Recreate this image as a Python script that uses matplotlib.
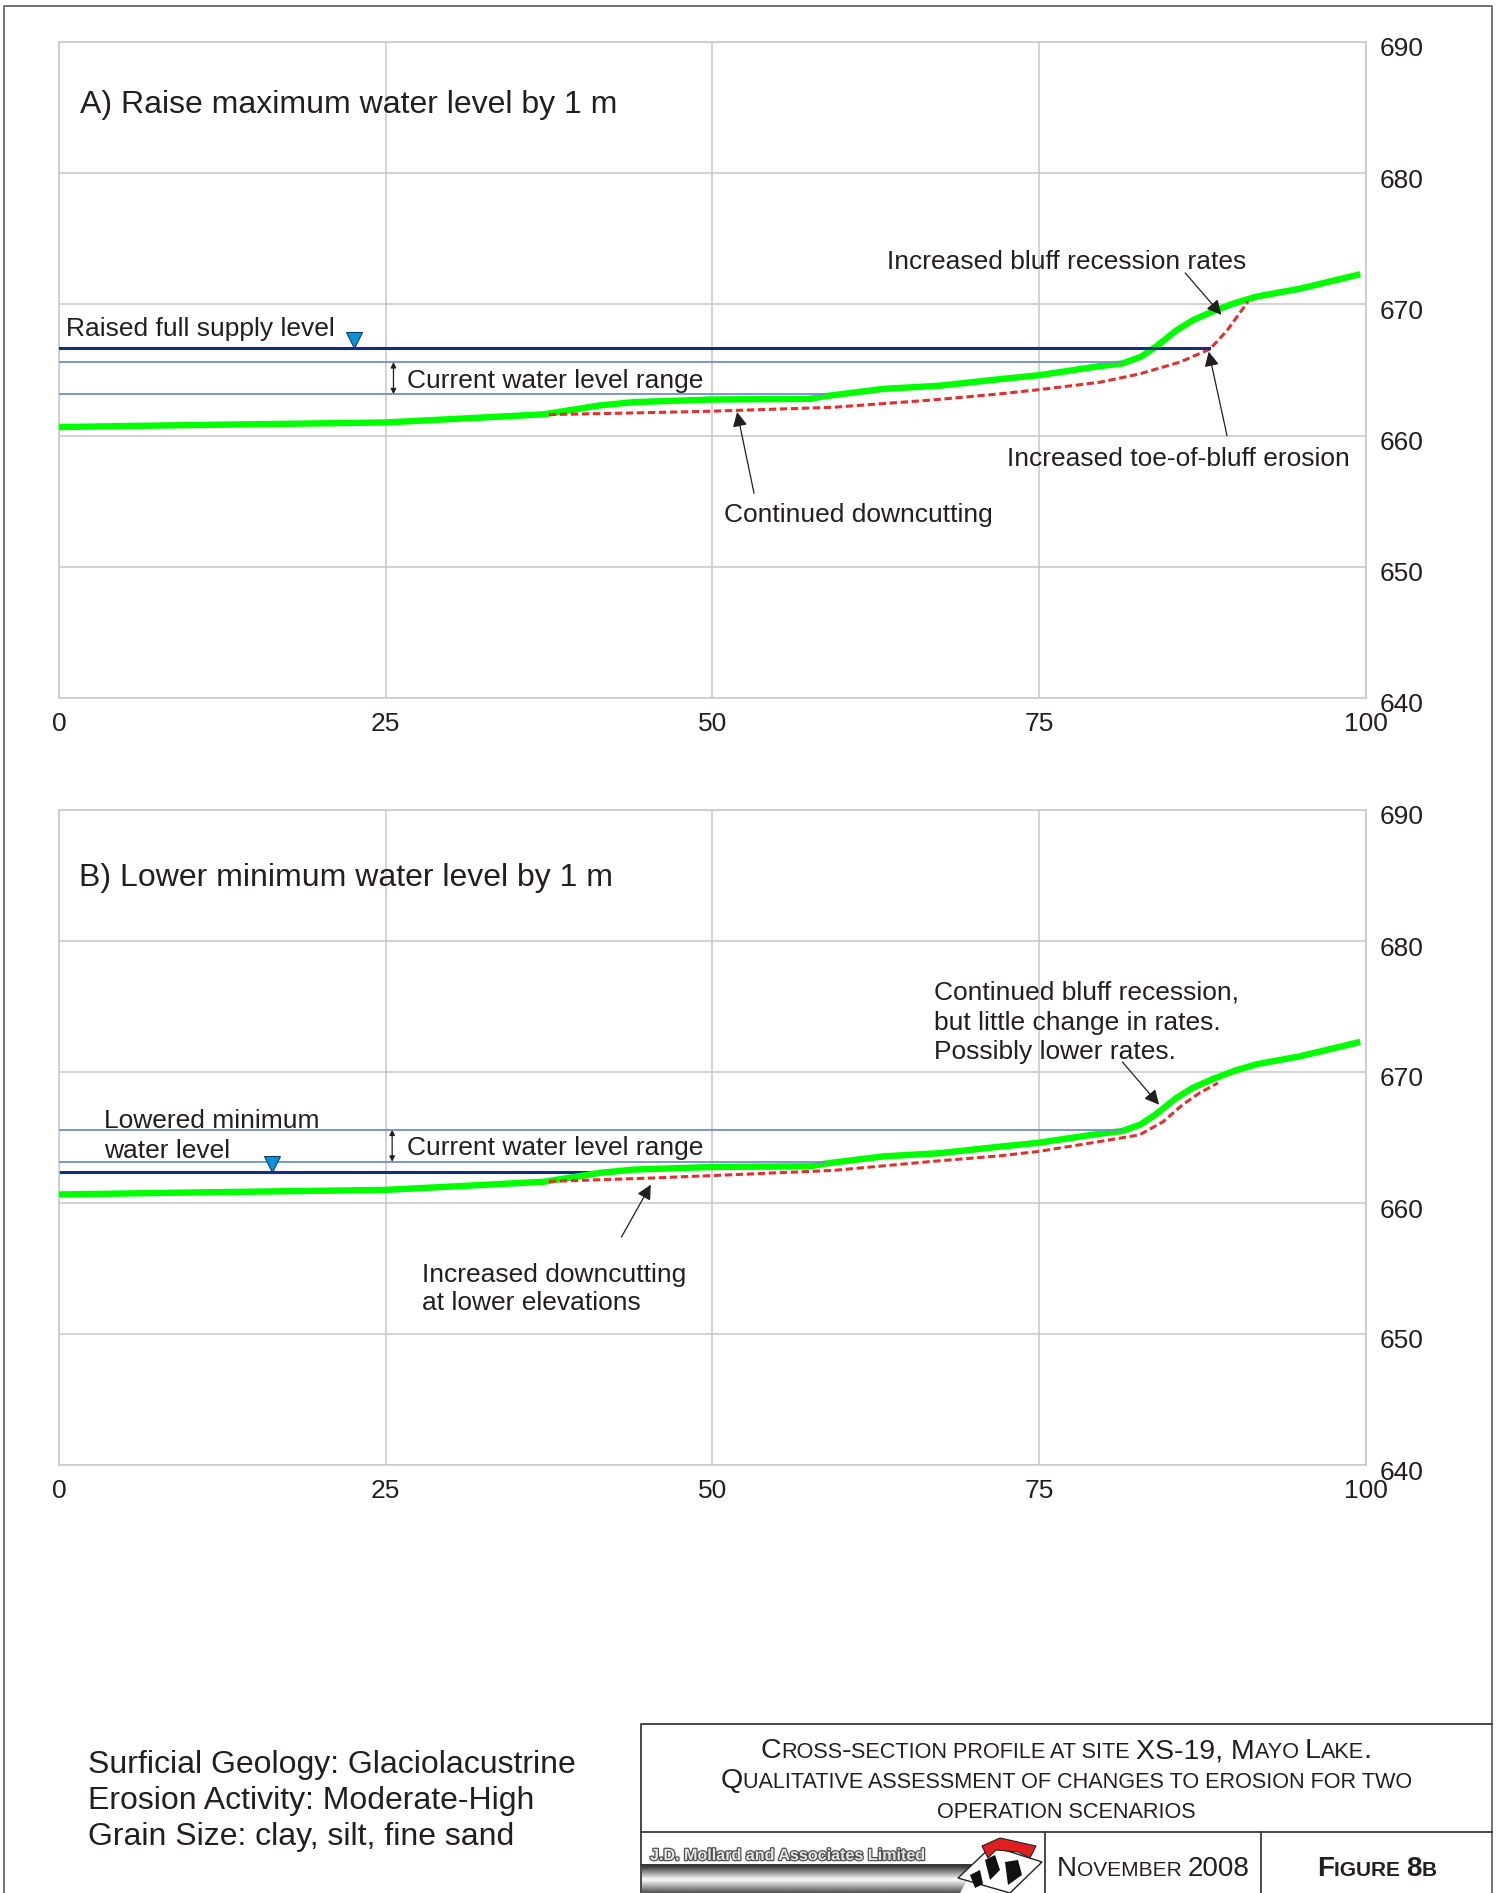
import numpy as np
import matplotlib.pyplot as plt
from matplotlib import patheffects
from matplotlib.patches import Polygon
from matplotlib.font_manager import FontProperties
from matplotlib.transforms import ScaledTranslation

FONT = ['Liberation Sans', 'DejaVu Sans']
plt.rcParams['font.family'] = FONT
TEXT = '#231f20'

# existing ground profile (same in both panels)
profile_x = [0, 10, 25, 33.8, 37.1, 41.4, 44.0, 50.0, 57.5, 58.6, 63.1, 67.4, 72.0,
             75.0, 79.5, 81.4, 82.8, 84.0, 85.5, 86.8, 88.4, 90.0, 91.7, 95.0, 99.6]
profile_elev = [660.65, 660.8, 661.0, 661.45, 661.62, 662.3, 662.55, 662.75, 662.8,
                663.0, 663.56, 663.8, 664.3, 664.6, 665.27, 665.5, 666.0, 666.8,
                668.0, 668.8, 669.5, 670.1, 670.6, 671.2, 672.3]

# predicted profile, scenario A (raise max level)
future_a_x = [37.5, 45.0, 50.0, 59.3, 66.9, 72.0, 75.0, 79.7, 82.7, 85.8, 88.1, 89.4, 91.0]
future_a_elev = [661.6, 661.75, 661.86, 662.16, 662.72, 663.18, 663.5, 664.07, 664.7,
                 665.6, 666.6, 668.0, 670.2]

# predicted profile, scenario B (lower min level)
future_b_x = [37.5, 45.2, 51.6, 59.3, 66.9, 72.0, 75.0, 79.7, 82.7, 84.5, 86.0, 87.3, 88.7]
future_b_elev = [661.65, 661.9, 662.16, 662.49, 663.18, 663.6, 663.94, 664.7, 665.2,
                 666.2, 667.5, 668.4, 669.16]

# water levels and where they meet the bank
current_max, current_max_end = 665.6, 81.4
current_min, current_min_end = 663.15, 58.6
raised_fsl, raised_fsl_end = 666.7, 88.0
lowered_min, lowered_min_end = 662.4, 43.0

x_ticks = [0, 25, 50, 75, 100]
y_ticks = [640, 650, 660, 670, 680, 690]

W, H = 1499, 1893
fig = plt.figure(figsize=(W / 100, H / 100), dpi=100)

# overlay in pixel coordinates for frame and title block
fax = fig.add_axes([0, 0, 1, 1], zorder=-1)
fax.axis('off')

GREEN = '#00ff00'
RED = '#e3302a'
DBLUE = '#0b2f91'
LBLUE = '#6f8fcc'
GRID = '#c8c8c8'


def setup_panel(ax):
    ax.set_xlim(0, 100)
    ax.set_ylim(640, 690)
    ax.set_xticks(x_ticks)
    ax.set_yticks(y_ticks)
    ax.yaxis.tick_right()
    ax.tick_params(length=0, labelsize=19, labelcolor=TEXT)
    ax.tick_params(axis='y', pad=10)
    ax.tick_params(axis='x', pad=10)
    ax.grid(True, color=GRID, lw=1.1)
    for s in ax.spines.values():
        s.set_color(GRID)
        s.set_linewidth(1.1)
    off = ScaledTranslation(0, -5 / 100, fig.dpi_scale_trans)
    for lab in ax.get_yticklabels():
        lab.set_transform(lab.get_transform() + off)
    ax.set_axisbelow(True)


def arrow(ax, start, tip, scale=22):
    ax.annotate('', xy=tip, xytext=start,
                arrowprops=dict(arrowstyle='-|>', color=TEXT, lw=0.9,
                                mutation_scale=scale, shrinkA=0, shrinkB=0))


def range_arrow(ax, x):
    ax.annotate('', xy=(x, current_max), xytext=(x, current_min),
                arrowprops=dict(arrowstyle='<|-|>', color=TEXT, lw=0.9,
                                mutation_scale=8, shrinkA=0, shrinkB=0))


def marker(ax, x, level):
    ax.plot([x], [level + 0.55], marker='v', ms=12, mfc='#0a93d8', mec='#123a6e',
            mew=0.8, ls='none', zorder=6)


def profiles(ax, fx, fy):
    ax.plot(profile_x, profile_elev, color=GREEN, lw=4.6, solid_capstyle='butt',
            solid_joinstyle='round', zorder=3)
    ax.plot(fx, fy, color=RED, lw=2.2, ls=(0, (2.4, 1.2)), zorder=4)
    ax.plot([0.1, current_max_end], [current_max] * 2, color=LBLUE, lw=1.3, zorder=5)
    ax.plot([0.1, current_min_end], [current_min] * 2, color=LBLUE, lw=1.3, zorder=5)


# ---------------- panel A ----------------
axA = fig.add_axes([59 / W, 1 - 698 / H, 1306.5 / W, 656 / H])
setup_panel(axA)
profiles(axA, future_a_x, future_a_elev)
axA.plot([0.1, raised_fsl_end], [raised_fsl] * 2, color=DBLUE, lw=2.2, zorder=5)
marker(axA, 22.6, raised_fsl)
range_arrow(axA, 25.6)

axA.text(1.6, 684.6, 'A) Raise maximum water level by 1 m', fontsize=23, color=TEXT, va='baseline')
axA.text(0.55, 667.6, 'Raised full supply level', fontsize=19, color=TEXT, va='baseline')
axA.text(26.6, 663.63, 'Current water level range', fontsize=19, color=TEXT, va='baseline')
axA.text(63.4, 672.67, 'Increased bluff recession rates', fontsize=19, color=TEXT, va='baseline')
axA.text(72.55, 657.67, 'Increased toe-of-bluff erosion', fontsize=19, color=TEXT, va='baseline')
axA.text(50.9, 653.4, 'Continued downcutting', fontsize=19, color=TEXT, va='baseline')
arrow(axA, (86.2, 672.4), (88.97, 669.2))
arrow(axA, (89.4, 660.0), (88.0, 666.4))
arrow(axA, (53.2, 655.6), (51.9, 661.8))

# ---------------- panel B ----------------
axB = fig.add_axes([59 / W, 1 - 1465 / H, 1306.5 / W, 655 / H])
setup_panel(axB)
profiles(axB, future_b_x, future_b_elev)
axB.plot([0.1, lowered_min_end], [lowered_min] * 2, color=DBLUE, lw=2.2, zorder=2)
marker(axB, 16.3, lowered_min)
range_arrow(axB, 25.5)

axB.text(1.5, 684.2, 'B) Lower minimum water level by 1 m', fontsize=23, color=TEXT, va='baseline')
axB.text(3.44, 665.69, 'Lowered minimum', fontsize=19, color=TEXT, va='baseline')
axB.text(3.44, 663.4, 'water level', fontsize=19, color=TEXT, va='baseline')
axB.text(26.6, 663.66, 'Current water level range', fontsize=19, color=TEXT, va='baseline')
for txt, yy in zip(['Continued bluff recession,', 'but little change in rates.',
                    'Possibly lower rates.'], [675.53, 673.24, 671.03]):
    axB.text(66.96, yy, txt, fontsize=19, color=TEXT, va='baseline')
axB.text(27.8, 654.0, 'Increased downcutting', fontsize=19, color=TEXT, va='baseline')
axB.text(27.8, 651.8, 'at lower elevations', fontsize=19, color=TEXT, va='baseline')
arrow(axB, (81.4, 670.76), (84.2, 667.5))
arrow(axB, (43.05, 657.4), (45.3, 661.4))

# ---------------- frame, notes and title block ----------------
fax.plot([4, 4, 1492, 1492], [H, 6, 6, H], color='#5a5a5a', lw=1.2)

notes = ['Surficial Geology: Glaciolacustrine', 'Erosion Activity: Moderate-High',
         'Grain Size: clay, silt, fine sand']
for txt, yy in zip(notes, [1773, 1809, 1845]):
    fax.text(88, yy, txt, fontsize=23, color=TEXT, va='baseline')

BOX = '#3a3a3a'
fax.plot([641, 641, 1492], [H, 1724, 1724], color=BOX, lw=1.3)
fax.plot([641, 1492], [1832, 1832], color=BOX, lw=1.3)
fax.plot([1045, 1045], [1832, H], color=BOX, lw=1.3)
fax.plot([1261, 1261], [1832, H], color=BOX, lw=1.3)

renderer = fig.canvas.get_renderer()


def text_width(s, size, weight):
    prop = FontProperties(family=FONT, size=size, weight=weight)
    w1 = renderer.get_text_width_height_descent('x' + s + 'x', prop, ismath=False)[0]
    w0 = renderer.get_text_width_height_descent('xx', prop, ismath=False)[0]
    return w1 - w0


def small_caps(s, xc, y, big, small, weight='normal'):
    runs = []
    for ch in s:
        if ch.islower():
            piece, sz = ch.upper(), small
        elif ch == ' ':
            piece, sz = ch, (runs[-1][1] if runs else big)
        else:
            piece, sz = ch, big
        if runs and runs[-1][1] == sz:
            runs[-1][0] += piece
        else:
            runs.append([piece, sz])
    widths = [text_width(r, sz, weight) for r, sz in runs]
    x = xc - sum(widths) / 2
    for (r, sz), w in zip(runs, widths):
        fax.text(x, y, r, fontsize=sz, fontweight=weight, color=TEXT, va='baseline', ha='left')
        x += w


small_caps('Cross-section profile at site XS-19, Mayo Lake.', 1066, 1758, 20.5, 15.6)
small_caps('Qualitative assessment of changes to erosion for two', 1066, 1788, 20.5, 15.6)
small_caps('operation scenarios', 1066, 1818, 20.5, 15.6)
small_caps('November 2008', 1153, 1876, 20, 15)
small_caps('Figure 8b', 1377, 1876, 20, 15, weight='bold')

# company logo strip
fax.text(650, 1860, 'J.D. Mollard and Associates Limited', fontsize=11.6, fontweight='bold',
         color='#e6e6e6', va='baseline',
         path_effects=[patheffects.withStroke(linewidth=1.8, foreground='#505050')])
grad = np.concatenate([np.linspace(0.25, 0.95, 8), np.linspace(0.95, 0.35, 8)])[:, None]
im = fax.imshow(grad, extent=(642, 1000, H, 1866), cmap='gray', vmin=0, vmax=1,
                aspect='auto', zorder=1)
strip = Polygon([(642, 1866), (975, 1866), (960, H), (642, H)], closed=True,
                transform=fax.transData)
im.set_clip_path(strip)
fax.plot([642, 975], [1865, 1865], color='#111111', lw=1.2, zorder=2)
page = Polygon([(958, 1878), (992, 1846), (1042, 1862), (1010, 1893)], closed=True,
               fc='white', ec='#222222', lw=1.0, zorder=3)
fax.add_patch(page)
for blob in ([(985, 1860), (995, 1855), (1000, 1870), (990, 1880)],
             [(1005, 1862), (1018, 1860), (1022, 1875), (1008, 1885)],
             [(970, 1875), (980, 1870), (983, 1884), (975, 1888)]):
    fax.add_patch(Polygon(blob, closed=True, fc='#111111', ec='none', zorder=4))
fax.add_patch(Polygon([(982, 1846), (1000, 1838), (1036, 1846), (1030, 1858), (1018, 1852),
                       (996, 1850), (988, 1858)], closed=True, fc='#e02020', ec='#222222',
                      lw=0.8, zorder=5))

fax.set_xlim(0, W)
fax.set_ylim(H, 0)

fig.savefig('out.png', dpi=100)
